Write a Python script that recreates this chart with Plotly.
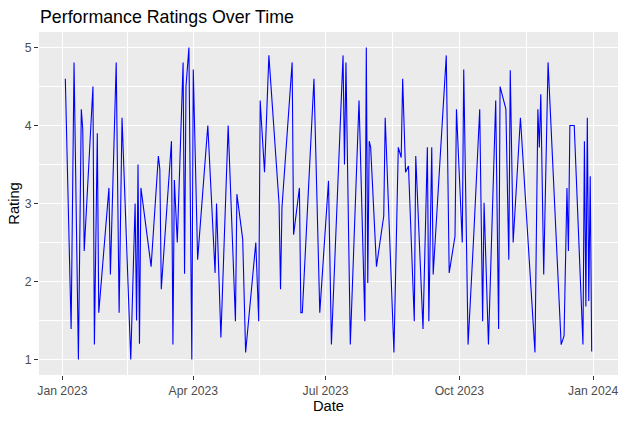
import pandas as pd
import plotly.graph_objects as go

# Day offsets from 2023-01-01 and ratings
day_offsets = [
    2, 6, 8, 11, 13, 14, 15, 21, 22, 24, 25, 32, 33, 37, 39, 41, 47, 50, 51, 52, 53, 54,
    61, 66, 67, 68, 75, 76, 77, 79, 83, 84, 85, 87, 89, 90, 93, 100, 105, 106, 109, 114,
    119, 120, 124, 126, 133, 135, 136, 139, 142, 149, 150, 151, 158, 159, 163, 164, 165, 173, 177, 183,
    185, 193, 194, 195, 198, 204, 208, 209, 210, 211, 212, 216, 221, 222, 228, 231, 233, 234, 236, 238, 242, 243, 248,
    251, 252, 254, 255, 261, 264, 266, 270, 271, 275, 276, 279, 283, 287, 289, 290, 293, 298, 300, 301, 305, 307, 308, 310,
    315, 325, 327, 328, 329, 331, 334, 343, 345, 347, 348, 349, 352, 358, 359, 360, 361, 362, 363, 364,
]
ratings = [
    4.6, 1.39, 4.81, 1.0, 4.21, 3.95, 2.39, 4.5, 1.19, 3.9, 1.6, 3.2, 2.09, 4.81, 1.6, 4.1, 1.0, 3.0, 1.5, 3.5, 1.2, 3.2,
    2.19, 3.61, 3.44, 1.9, 3.8, 1.19, 3.3, 2.5, 4.81, 2.1, 4.5, 5.0, 1.0, 4.72, 2.28, 4.0, 2.11, 3.0, 1.28, 4.0,
    1.49, 3.12, 2.54, 1.09, 2.5, 1.49, 4.32, 3.4, 4.9, 3.0, 1.9, 2.95, 4.81, 2.6, 3.2, 1.6, 1.6, 4.6, 1.6, 3.29,
    1.19, 4.9, 3.5, 4.81, 1.19, 4.32, 1.49, 5.0, 1.98, 3.8, 3.72, 2.19, 2.84, 4.1, 1.09, 3.72, 3.59, 4.6, 3.4, 3.48, 1.49, 3.61, 1.39,
    3.72, 1.49, 3.72, 2.09, 3.95, 4.9, 2.11, 2.58, 4.21, 2.5, 4.72, 1.19, 2.63, 4.21, 1.49, 3.01, 1.19, 4.32, 1.39, 4.5, 4.21, 2.28, 4.71, 2.5,
    4.1, 1.09, 4.21, 3.72, 4.4, 2.09, 4.81, 1.19, 1.3, 3.2, 2.39, 4.0, 4.0, 1.19, 3.8, 1.68, 4.1, 1.75, 3.35, 1.1,
]
x_tick_dates = ["2023-01-01", "2023-04-01", "2023-07-01", "2023-10-01", "2024-01-01"]
x_tick_labels = ["Jan 2023", "Apr 2023", "Jul 2023", "Oct 2023", "Jan 2024"]
y_ticks = [1, 2, 3, 4, 5]

dates = pd.Timestamp("2023-01-01") + pd.to_timedelta(day_offsets, unit="D")

# ggplot-like 5% expansion
span = dates.max() - dates.min()
x_range = [dates.min() - 0.05 * span, dates.max() + 0.05 * span]
yspan = max(ratings) - min(ratings)
y_range = [min(ratings) - 0.05 * yspan, max(ratings) + 0.05 * yspan]

major = pd.to_datetime(x_tick_dates)
minor_x = [major[i] + (major[i + 1] - major[i]) / 2 for i in range(len(major) - 1)]
minor_x = [major[0] - (major[1] - major[0]) / 2] + minor_x + [major[-1] + (major[-1] - major[-2]) / 2]

fig = go.Figure(
    go.Scatter(x=dates, y=ratings, mode="lines",
               line=dict(color="blue", width=1.1), hoverinfo="x+y")
)

font_family = "Liberation Sans, Arial, sans-serif"
fig.update_layout(
    width=626, height=421,
    margin=dict(l=39, r=8, t=32, b=46, autoexpand=False),
    paper_bgcolor="white",
    plot_bgcolor="#EBEBEB",
    showlegend=False,
    font=dict(family=font_family, color="black"),
    title=dict(text="Performance Ratings Over Time", x=40 / 626, xref="container",
               xanchor="left", y=1 - 17 / 421, yref="container", yanchor="middle",
               font=dict(size=17.8, color="black", family=font_family)),
)
fig.update_xaxes(
    range=x_range, tickvals=major, ticktext=x_tick_labels,
    showgrid=True, gridcolor="white", gridwidth=1.1,
    minor=dict(tickvals=minor_x, showgrid=True, gridcolor="white", gridwidth=0.55, ticks=""),
    ticks="outside", ticklen=4, tickcolor="#333333", tickwidth=1.1,
    tickfont=dict(size=12.2, color="#4D4D4D"),
    zeroline=False, showline=False, automargin=False,
    title=dict(text="Date", font=dict(size=14.7, color="black"), standoff=3),
)
fig.update_yaxes(
    range=y_range, tickvals=y_ticks,
    showgrid=True, gridcolor="white", gridwidth=1.1,
    minor=dict(dtick=0.5, tick0=0.5, showgrid=True, gridcolor="white", gridwidth=0.55, ticks=""),
    ticks="outside", ticklen=4, tickcolor="#333333", tickwidth=1.1,
    tickfont=dict(size=12.2, color="#4D4D4D"),
    zeroline=False, showline=False, automargin=False,
    title=dict(text="Rating", font=dict(size=14.7, color="black"), standoff=1),
)

fig.write_html("out.html", config={"displayModeBar": False},
               post_script="document.body.style.margin='0';")
